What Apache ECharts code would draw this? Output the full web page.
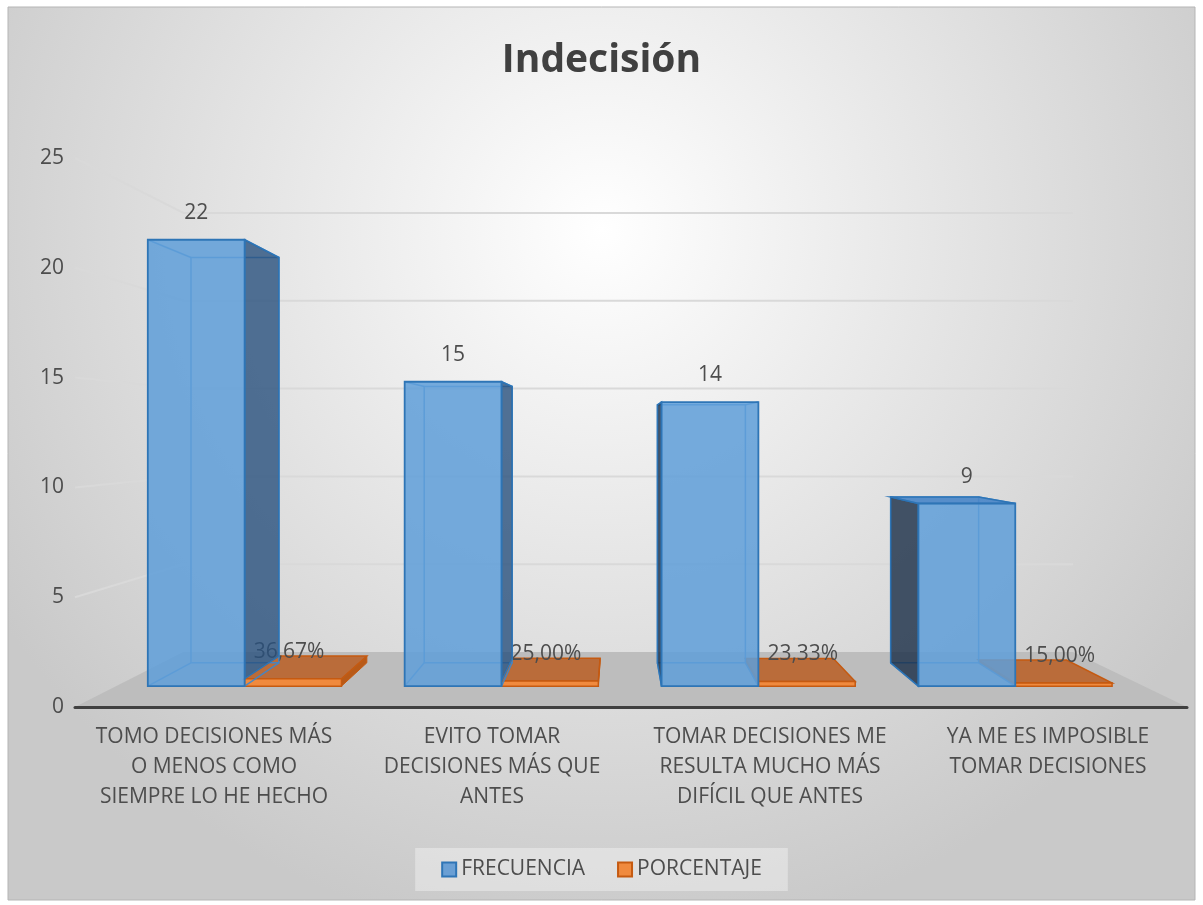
<!DOCTYPE html>
<html>
<head>
<meta charset="utf-8">
<script src="https://cdn.jsdelivr.net/npm/echarts@6/dist/echarts.min.js"></script>
<style>
  html, body { margin: 0; padding: 0; background: #ffffff; }
  #chart { width: 1203px; height: 905px; }
</style>
</head>
<body>
<div id="chart"></div>
<script>
// ---------------- data ----------------
const TITLE = 'Indecisión';
const CATEGORIES = [
  'TOMO DECISIONES MÁS\nO MENOS COMO\nSIEMPRE LO HE HECHO',
  'EVITO TOMAR\nDECISIONES MÁS QUE\nANTES',
  'TOMAR DECISIONES ME\nRESULTA MUCHO MÁS\nDIFÍCIL QUE ANTES',
  'YA ME ES IMPOSIBLE\nTOMAR DECISIONES'
];
const FRECUENCIA = [22, 15, 14, 9];
const PORCENTAJE = [0.3667, 0.25, 0.2333, 0.15];
const Y_TICKS = [0, 5, 10, 15, 20, 25];
const SERIES_NAMES = ['FRECUENCIA', 'PORCENTAJE'];

// ---------------- perspective settings ----------------
const VP_FX = 0.4875;     // vanishing point, fraction of grid width
const VP_FY = 0.5;        // vanishing point, fraction of grid height (from top)
const S_FRONT = 0.924;    // depth scale of bar front faces
const S_BACK = 0.839;     // depth scale of bar back faces
const S_WALL = 0.80;      // depth scale of back wall
const BAR_FRAC = 0.377;   // bar width as fraction of category band

const FONT = '"Open Sans", "DejaVu Sans", sans-serif';
const TXT = '#4d4d4d';

function persp(params) {
  const cs = params.coordSys;
  const VX = cs.x + VP_FX * cs.width;
  const VY = cs.y + VP_FY * cs.height;
  const P = (x, y, s) => [VX + s * (x - VX), VY + s * (y - VY)];
  return { cs, VX, VY, P };
}

function fmtPct(v) {
  return (v * 100).toFixed(2).replace('.', ',') + '%';
}

function poly(points, style, z2) {
  return { type: 'polygon', shape: { points }, style, z2: z2 || 0, silent: true };
}
function line(a, b, style, z2) {
  return { type: 'line', shape: { x1: a[0], y1: a[1], x2: b[0], y2: b[1] }, style, z2: z2 || 0, silent: true };
}

// gridlines + floor
function renderGrid(params, api) {
  const { cs, P } = persp(params);
  const t = api.value(1);
  const yF = api.coord([0, t])[1];
  const L = cs.x, R = cs.x + cs.width;
  if (t === 0) {
    return poly([[L, yF], [R, yF], P(R, yF, S_WALL), P(L, yF, S_WALL)], { fill: '#bdbdbd' });
  }
  return {
    type: 'polyline', silent: true,
    shape: { points: [[L, yF], P(L, yF, S_WALL), P(R, yF, S_WALL)] },
    style: { stroke: '#d9d9d9', lineWidth: 2, fill: null }
  };
}

// orange bars (PORCENTAJE)
function renderPct(params, api) {
  const { VX, VY, P } = persp(params);
  const i = api.value(0), v = api.value(1);
  const c = api.coord([i, 0]);
  const cx = c[0], y0 = c[1];
  const yT = api.coord([i, v])[1];
  const bw = api.size([1, 0])[0] * BAR_FRAC;
  const xa = cx, xb = cx + bw;
  const fr = [P(xa, yT, S_FRONT), P(xb, yT, S_FRONT), P(xb, y0, S_FRONT), P(xa, y0, S_FRONT)];
  const bk = [P(xa, yT, S_BACK), P(xb, yT, S_BACK), P(xb, y0, S_BACK), P(xa, y0, S_BACK)];
  const ch = [];
  if (xb < VX) {
    ch.push(poly([fr[1], bk[1], bk[2], fr[2]], { fill: '#b85a18', stroke: '#c55a11', lineWidth: 1 }));
  } else if (xa > VX) {
    ch.push(poly([fr[0], bk[0], bk[3], fr[3]], { fill: '#b85a18', stroke: '#c55a11', lineWidth: 1 }));
  }
  if (yT > VY) {
    ch.push(poly([fr[0], fr[1], bk[1], bk[0]], { fill: 'rgba(185,85,20,0.78)', stroke: '#c55a11', lineWidth: 1.5 }));
  }
  ch.push(poly(fr, { fill: '#f08a3e', stroke: '#c55a11', lineWidth: 1.5 }));
  ch.push({
    type: 'text', silent: true, z2: 10,
    style: {
      text: fmtPct(v), x: (fr[0][0] + fr[1][0]) / 2 - 4, y: fr[0][1] - 27,
      align: 'center', verticalAlign: 'middle', font: '21px ' + FONT, fill: TXT
    }
  });
  return { type: 'group', children: ch };
}

// blue bars (FRECUENCIA)
function renderFreq(params, api) {
  const { VX, VY, P } = persp(params);
  const i = api.value(0), v = api.value(1), pv = api.value(2);
  const c = api.coord([i, 0]);
  const cx = c[0], y0 = c[1];
  const yT = api.coord([i, v])[1];
  const yP = api.coord([i, pv])[1];
  const bw = api.size([1, 0])[0] * BAR_FRAC;
  const xa = cx - bw, xb = cx;
  const fr = [P(xa, yT, S_FRONT), P(xb, yT, S_FRONT), P(xb, y0, S_FRONT), P(xa, y0, S_FRONT)];
  const bk = [P(xa, yT, S_BACK), P(xb, yT, S_BACK), P(xb, y0, S_BACK), P(xa, y0, S_BACK)];
  const ch = [];
  const edge = { stroke: 'rgba(60,135,205,0.9)', lineWidth: 1.5, fill: null };
  ch.push(poly(bk, edge));
  for (let k = 0; k < 4; k++) ch.push(line(fr[k], bk[k], edge));
  if (xb < VX) {
    ch.push(poly([fr[1], bk[1], P(xb, yP, S_BACK), P(xb, yP, S_FRONT)],
      { fill: 'rgba(40,80,125,0.8)', stroke: '#2e75b6', lineWidth: 1.5 }));
  } else if (xa > VX) {
    ch.push(poly([fr[0], bk[0], bk[3], fr[3]],
      { fill: 'rgba(25,45,70,0.8)', stroke: '#2e75b6', lineWidth: 1.5 }));
  }
  if (yT > VY) {
    ch.push(poly([fr[0], fr[1], bk[1], bk[0]], { fill: 'rgba(75,135,200,0.92)', stroke: '#2e75b6', lineWidth: 1.5 }));
  }
  ch.push(poly(fr, { fill: 'rgba(95,158,216,0.86)', stroke: '#2e75b6', lineWidth: 1.8 }));
  ch.push({
    type: 'text', silent: true, z2: 10,
    style: {
      text: String(v), x: (fr[0][0] + fr[1][0]) / 2, y: fr[0][1] - 27,
      align: 'center', verticalAlign: 'middle', font: '21px ' + FONT, fill: TXT
    }
  });
  return { type: 'group', children: ch };
}

const chart = echarts.init(document.getElementById('chart'), null, { renderer: 'canvas' });

const option = {
  animation: false,
  backgroundColor: '#ffffff',
  graphic: [{
    type: 'rect', z: -100, silent: true,
    shape: { x: 8, y: 7, width: 1187, height: 893 },
    style: {
      fill: new echarts.graphic.RadialGradient(0.5, 0.25, 0.8, [
        { offset: 0, color: '#ffffff' },
        { offset: 1, color: '#c9c9c9' }
      ]),
      stroke: '#b5b5b5', lineWidth: 1
    }
  }],
  title: {
    text: TITLE, left: 'center', top: 36,
    textStyle: { fontFamily: FONT, fontWeight: 'bold', fontSize: 39, color: '#404040' }
  },
  legend: {
    data: [
      { name: SERIES_NAMES[0], itemStyle: { color: '#6a9fd4', borderColor: '#2e75b6', borderWidth: 2 } },
      { name: SERIES_NAMES[1], itemStyle: { color: '#f08a3e', borderColor: '#c55a11', borderWidth: 2 } }
    ],
    left: 'center', top: 848,
    padding: [11, 26],
    itemGap: 32, itemWidth: 14, itemHeight: 14, icon: 'rect',
    backgroundColor: 'rgba(255,255,255,0.35)',
    textStyle: { fontFamily: FONT, fontSize: 21, color: TXT }
  },
  grid: { left: 75, right: 16, top: 158, bottom: 198, containLabel: false },
  xAxis: {
    type: 'category', data: CATEGORIES, z: 10,
    axisLine: { show: true, lineStyle: { color: '#404040', width: 3 } },
    axisTick: { show: false },
    axisLabel: { interval: 0, margin: 15, fontFamily: FONT, fontSize: 21, lineHeight: 30, color: TXT },
    splitLine: { show: false }
  },
  yAxis: {
    type: 'value', min: 0, max: 25, interval: 5,
    axisLine: { show: false }, axisTick: { show: false },
    axisLabel: { margin: 11, fontFamily: FONT, fontSize: 21, color: TXT },
    splitLine: { show: false }
  },
  series: [
    {
      type: 'custom', name: '_grid', z: 1, silent: true,
      renderItem: renderGrid,
      encode: { x: 0, y: 1 },
      data: Y_TICKS.map(t => [0, t])
    },
    {
      type: 'custom', name: SERIES_NAMES[1], z: 2,
      itemStyle: { color: '#f08a3e', borderColor: '#c55a11', borderWidth: 2 },
      renderItem: renderPct,
      encode: { x: 0, y: 1 },
      data: PORCENTAJE.map((v, i) => [i, v])
    },
    {
      type: 'custom', name: SERIES_NAMES[0], z: 3,
      itemStyle: { color: '#6a9fd4', borderColor: '#2e75b6', borderWidth: 2 },
      renderItem: renderFreq,
      encode: { x: 0, y: 1 },
      data: FRECUENCIA.map((v, i) => [i, v, PORCENTAJE[i]])
    }
  ]
};
chart.setOption(option);
</script>
</body>
</html>
